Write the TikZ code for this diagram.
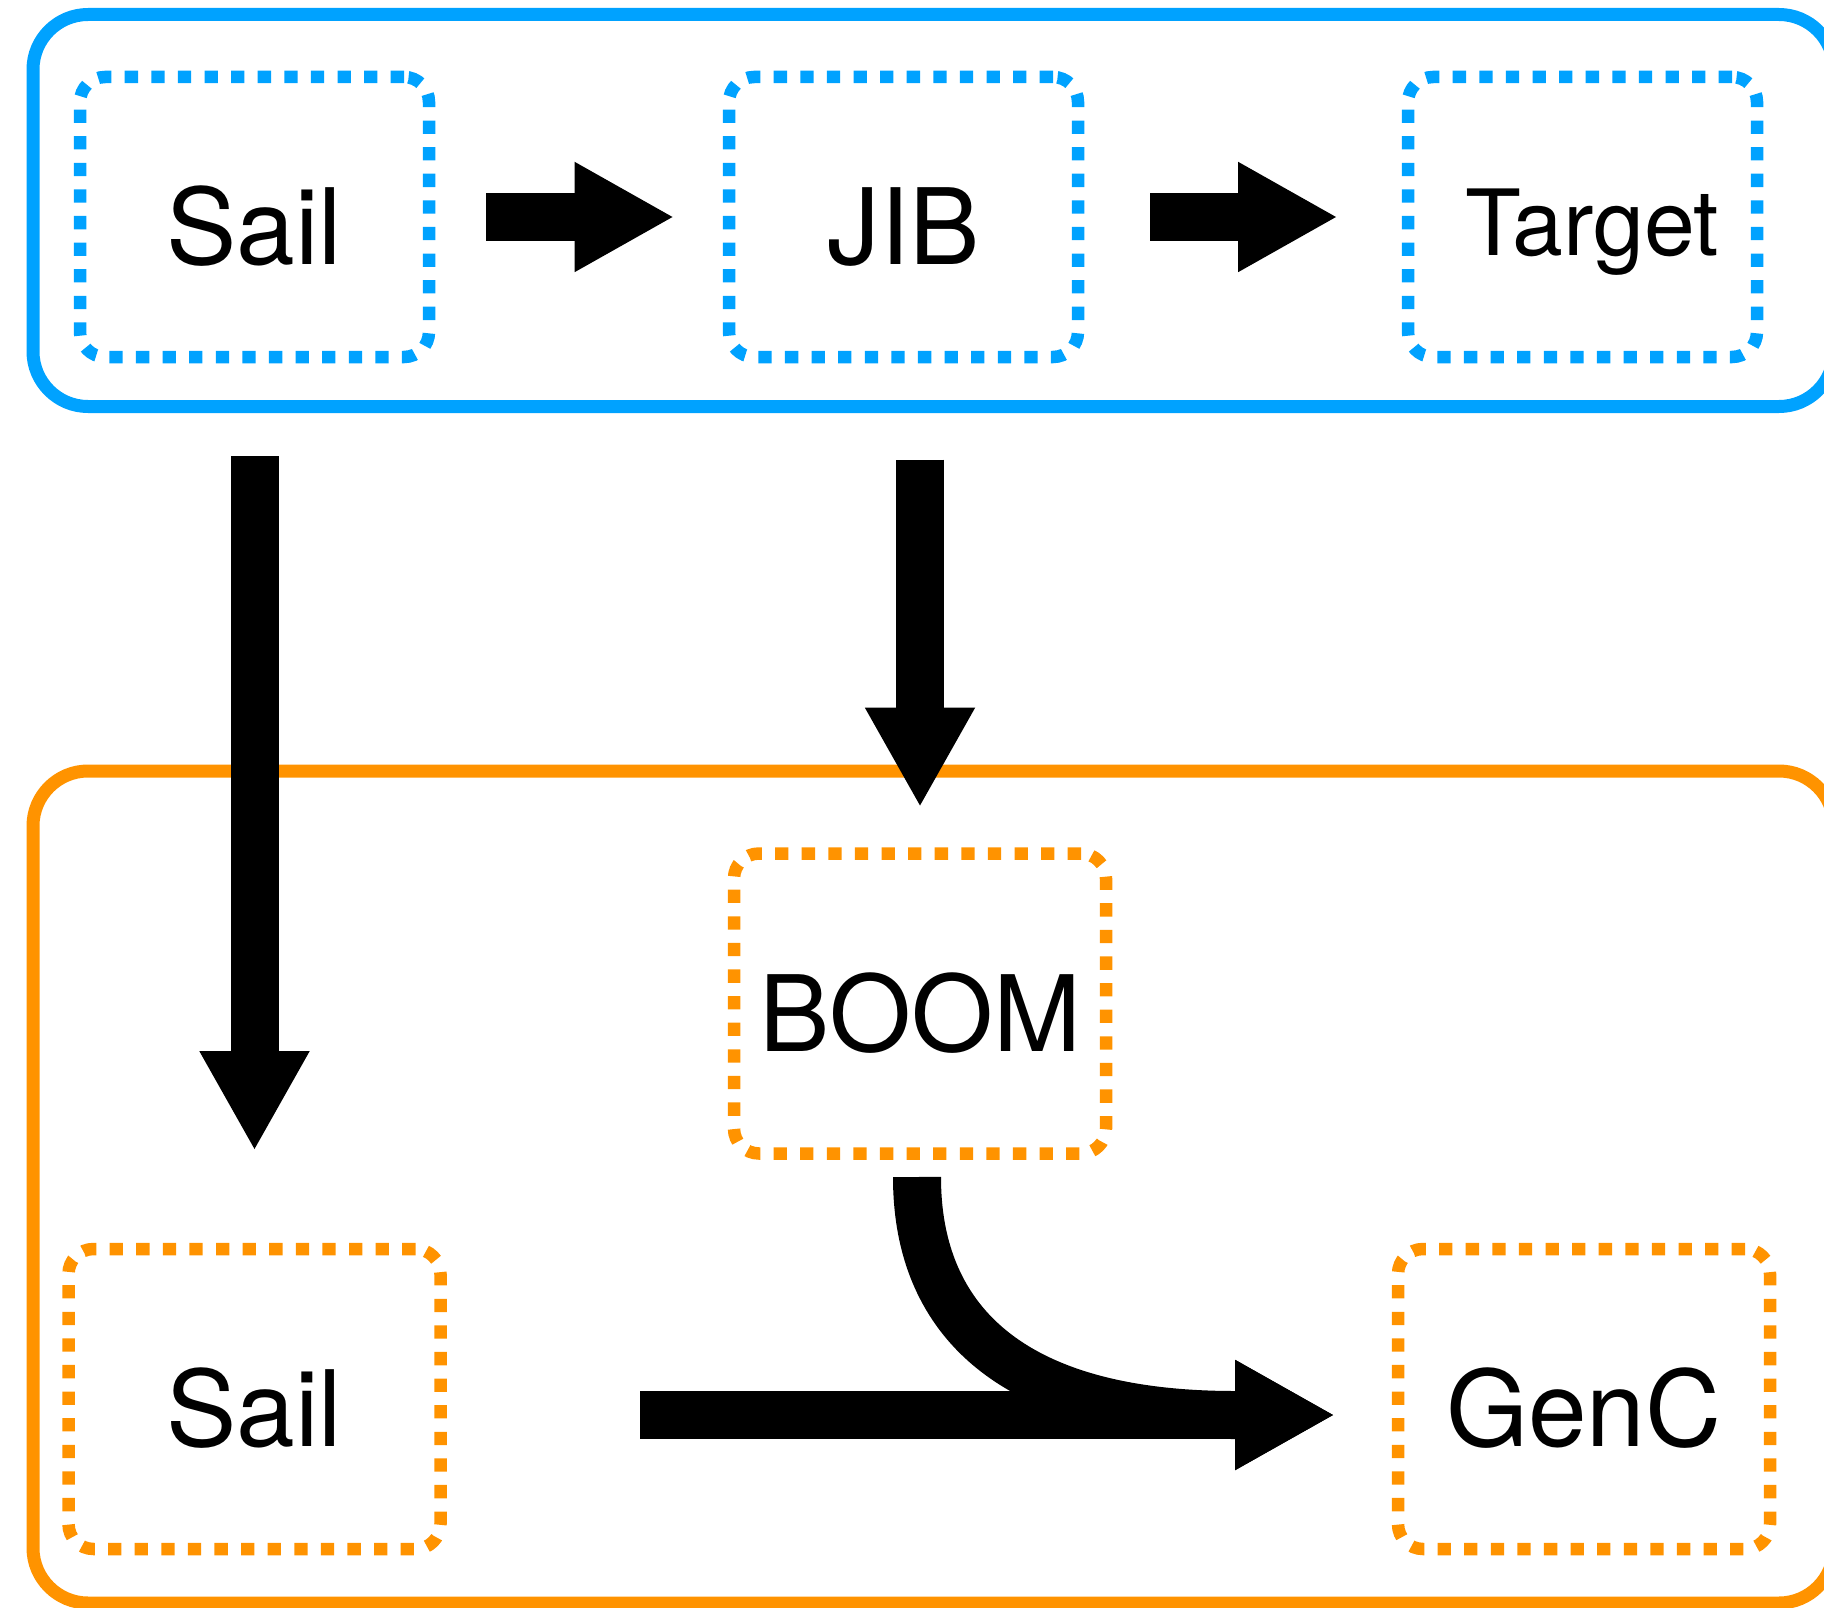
\documentclass[tikz,border=0pt]{standalone}
\usepackage{fontspec}
\setmainfont{TeX Gyre Heros}
\usetikzlibrary{arrows.meta, positioning}
\definecolor{skyblue}{RGB}{0,162,255}
\definecolor{tangerine}{RGB}{255,147,0}

\begin{document}
\begin{tikzpicture}[
            node distance=3cm,
            bluenode/.style={rectangle, rounded corners=2.5mm, draw=skyblue, line width=1.25mm, dash pattern=on 1.33mm off 1.33mm, minimum width=3.49cm, minimum height=2.8cm, inner sep=0pt, outer sep=0pt, text height=1.2cm, text depth=0.25cm, font=\fontsize{30}{36}\selectfont},
            orangenode/.style={rectangle, rounded corners=2.5mm, draw=tangerine, line width=1.25mm, dash pattern=on 1.33mm off 1.33mm, minimum width=3.72cm, minimum height=3cm, inner sep=0pt, outer sep=0pt, text height=1.2cm, text depth=0.25cm, font=\fontsize{30}{36}\selectfont},
            groupbox/.style={rounded corners=5.5mm, line width=1.3mm},
            blockarrow/.style={line width=4.8mm, -{Triangle[length=9.8mm, width=11.05mm, line width=0pt]}},
            ]
            \useasboundingbox (0,0) rectangle (18.24,-16.08);

            % the two groups
            \draw[groupbox, draw=skyblue]    (0.33,-0.145) rectangle (18.34,-4.065);
            \draw[groupbox, draw=tangerine]  (0.33,-7.71) rectangle (18.34,-16.03);

            \node[bluenode]    (sail1)  at (2.545,-2.17) {Sail};
            \node[bluenode]    (jib)    [right=of sail1] {JIB};
            \node[bluenode, text height=1.02cm, font=\fontsize{26}{31}\selectfont]
                               (target) [right=3.3cm of jib] {\hspace*{2mm}Target};

            \node[orangenode]  (sail2)  [below=8.92cm of sail1] {Sail};
            \node[orangenode]  (genc)   [right=9.575cm of sail2] {GenC};
            \node[orangenode]  (boom)   at (9.2,-10.035) {BOOM};

            \draw[blockarrow, shorten <=5.7mm, shorten >=5.65mm] (sail1) -- (jib);
            \draw[blockarrow, shorten <=7.2mm, shorten >=7.2mm] (jib) -- (target);
            \draw[blockarrow, shorten <=9.9mm, shorten >=10mm] (sail1) -- (sail2);
            \draw[blockarrow, shorten <=10.25mm, shorten >=4.8mm] (jib.south -| boom.north) -- (boom.north);
            \draw[blockarrow, shorten <=19.95mm, shorten >=6.5mm] ([yshift=-1.6mm]sail2.east) -- ([yshift=-1.6mm]genc.west);
            \draw[blockarrow] ([xshift=-0.3mm, yshift=-2.35mm]boom.south) .. controls +(0,-0.8) and +(-3.88,0) .. ([xshift=-6.5mm, yshift=-1.6mm]genc.west);
        \end{tikzpicture}
\end{document}
